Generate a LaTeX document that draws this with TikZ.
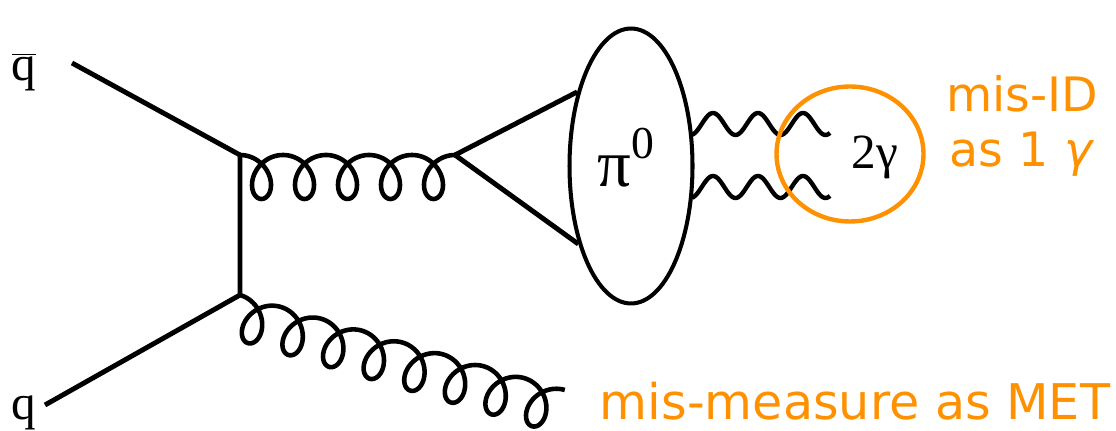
\documentclass[tikz,border=0pt]{standalone}
\usepackage{fontspec}
\setmainfont{Liberation Serif}
\newfontfamily\notefont{DejaVu Sans}
\usetikzlibrary{positioning, calc, shapes.geometric}
\definecolor{misorange}{RGB}{255,145,0}

\begin{document}
\begin{tikzpicture}[x=0.02cm, y=-0.02cm,
    quark/.style={line width=2.8pt},
    gluon/.style={line width=2.6pt, line join=round},
    photon/.style={line width=2.5pt, line join=round},
    note/.style={text=misorange, font=\notefont\fontsize{27}{31}\selectfont, align=center}]
    \useasboundingbox (0,0) rectangle (1116,431);

    % Vertices
    \coordinate (vtop) at (240,155);
    \coordinate (vbot) at (240,295);
    \coordinate (vpi) at (455,155);
    \coordinate (qbarin) at (72,63);
    \coordinate (qin) at (45,405);

    % Labels of incoming quarks
    \node (qbar) at (24,72) {\fontsize{28}{28}\selectfont$\overline{\hbox{q}}$};
    \node[anchor=south, inner sep=0pt] (q) at (24,430) {\fontsize{28}{28}\selectfont q};

    % Quark lines
    \draw[quark] (qbarin) -- (vtop) -- (vbot) -- (qin);

    % Gluons (loops hanging under the line)
    \draw[gluon, shift={(vtop)}] plot[domain=0:1800, samples=300, variable=\t]
        ({\t/360*43 + 19*sin(\t)}, {22*(1-cos(\t))});
    \draw[gluon, shift={(vbot)}, rotate=-16.3] plot[domain=0:2880, samples=480, variable=\t]
        ({\t/360*42.3 + 19*sin(\t)}, {22*(1-cos(\t))});

    % Pion blob
    \node[ellipse, draw, line width=2.3pt, minimum width=2.46cm, minimum height=5.5cm] (pion) at (631,166) {};
    \node (pilabel) at (626,158) {\fontsize{38}{38}\selectfont π\raisebox{0.42em}{\fontsize{26}{26}\selectfont 0}};
    \draw[quark] (vpi) -- (pion.126);
    \draw[quark] (vpi) -- (pion.236);

    % Photons
    \foreach \yy/\nm in {124/ga, 187/gb} {
        \draw[photon, shift={(692,\yy)}] plot[domain=0:138, samples=120, variable=\u]
            ({\u}, {-11*cos(8*(\u-21))});
    }
    \node (gg) at (875,157) {\fontsize{28}{28}\selectfont 2γ};
    \node[ellipse, draw=misorange, line width=2.5pt, minimum width=2.94cm, minimum height=2.7cm] (ring) at (850,154) {};

    % Notes
    \node[note] (misid) at (1022,126) {mis-ID\\as 1 \textit{γ}};
    \node[note, font=\notefont\fontsize{28}{30}\selectfont, anchor=base] (met) at (855,420) {mis-measure as MET};
\end{tikzpicture}
\end{document}
